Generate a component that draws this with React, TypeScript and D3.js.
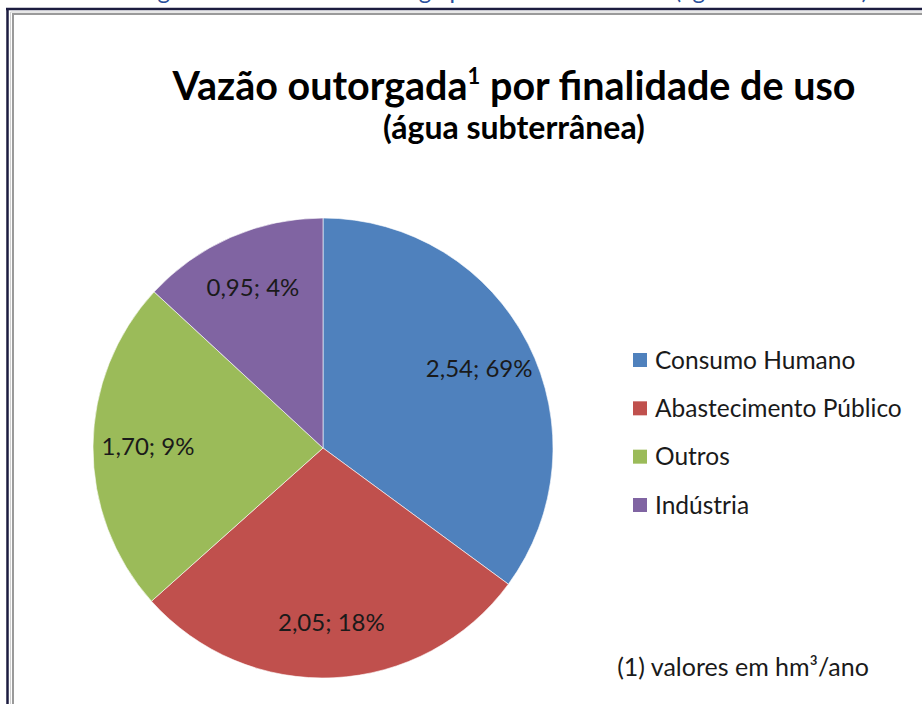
import React from "react";
import * as d3 from "d3";

const categories = ["Consumo Humano", "Abastecimento Público", "Outros", "Indústria"];
const values = [2.54, 2.05, 1.7, 0.95];
const percentLabels = ["69%", "18%", "9%", "4%"];
const colors = ["#4f81bd", "#c0504d", "#9bbb59", "#8064a2"];

const titleText = "Vazão outorgada";
const titleSup = "1";
const titleRest = " por finalidade de uso";
const subtitleText = "(água subterrânea)";
const footnoteText = "(1) valores em hm³/ano";
const captionText = "Figura 6 – Vazões de outorga por finalidade de uso (água subterrânea)";

const W = 922;
const H = 704;
const FONT = "Lato, 'Open Sans', sans-serif";

export default function App() {
  const cx = 323;
  const cy = 448;
  const R = 230;
  const pie = d3.pie<number>().sort(null).value((d) => d)(values);
  const arc = d3.arc<d3.PieArcDatum<number>>().innerRadius(0).outerRadius(R);
  const labelArc = d3.arc<d3.PieArcDatum<number>>().innerRadius(175).outerRadius(175);
  const fmt = (v: number) => d3.format(".2f")(v).replace(".", ",");

  const legendY = d3.scalePoint<string>().domain(categories).range([360, 505]);

  return (
    <svg width={W} height={H} style={{ position: "absolute", left: 0, top: 0 }} fontFamily={FONT}>
      <rect x={0} y={0} width={W} height={H} fill="#ffffff" />
      {/* cut-off caption above the frame */}
      <text x={868} y={-1} textAnchor="end" fontSize={24} fill="#2a4f9c">{captionText}</text>
      {/* frame */}
      <line x1={6} y1={9} x2={W} y2={9} stroke="#1c1c40" strokeWidth={2.5} />
      <line x1={7.5} y1={9} x2={7.5} y2={H} stroke="#1c1c40" strokeWidth={2.5} />
      <line x1={10.5} y1={12} x2={W} y2={12} stroke="#d0d0d0" strokeWidth={1} />
      <line x1={10.5} y1={12} x2={10.5} y2={H} stroke="#d0d0d0" strokeWidth={1} />
      <line x1={12} y1={14} x2={W} y2={14} stroke="#9a9a9a" strokeWidth={2} />
      <line x1={13} y1={13} x2={13} y2={H} stroke="#9a9a9a" strokeWidth={2} />

      {/* title */}
      <text x={514} y={100} textAnchor="middle" fontSize={39.5} fontWeight="bold" fill="#000">
        {titleText}
        <tspan fontSize={22} dy={-16}>{titleSup}</tspan>
        <tspan dy={16}>{titleRest}</tspan>
      </text>
      <text x={514} y={139} textAnchor="middle" fontSize={32} fontWeight="bold" fill="#000">
        {subtitleText}
      </text>

      {/* pie */}
      <g transform={`translate(${cx},${cy})`}>
        {pie.map((d, i) => (
          <path key={i} d={arc(d) || ""} fill={colors[i]} stroke="#ffffff" strokeWidth={0.6} />
        ))}
        {pie.map((d, i) => {
          const [x, y] = labelArc.centroid(d);
          return (
            <text key={i} x={x} y={y} dy="0.35em" textAnchor="middle" fontSize={24} fill="#1a1a1a">
              {`${fmt(values[i])}; ${percentLabels[i]}`}
            </text>
          );
        })}
      </g>

      {/* legend */}
      {categories.map((c, i) => (
        <g key={c} transform={`translate(633,${legendY(c)})`}>
          <rect x={0} y={-7} width={14} height={14} fill={colors[i]} />
          <text x={22} y={0} dy="0.35em" fontSize={24.5} fill="#1a1a1a">{c}</text>
        </g>
      ))}

      {/* footnote */}
      <text x={743} y={667} dy="0.35em" textAnchor="middle" fontSize={25} fill="#1a1a1a">
        {footnoteText}
      </text>
    </svg>
  );
}
